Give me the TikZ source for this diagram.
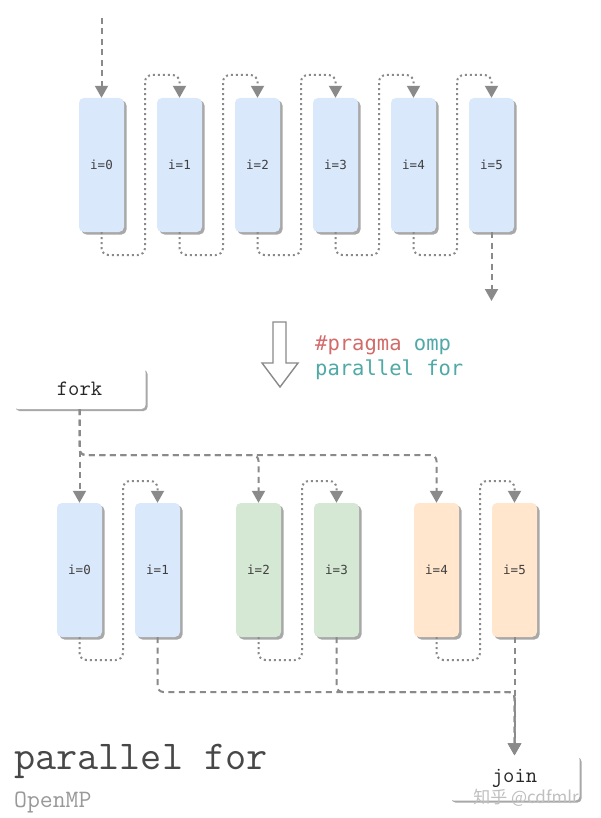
\documentclass[tikz,border=0pt]{standalone}
\usepackage{fontspec}
\usetikzlibrary{arrows.meta,shadows}
\newfontfamily\dvmfont{DejaVu Sans Mono}
\newfontfamily\cjkfont{Noto Sans CJK SC}
\definecolor{lblue}{HTML}{DAE8FC}
\definecolor{lgreen}{HTML}{D5E8D4}
\definecolor{lorange}{HTML}{FFE6CC}
\definecolor{linegray}{HTML}{8A8A8A}
\definecolor{shadowgray}{HTML}{A8A8A8}
\definecolor{pragred}{HTML}{D36B6B}
\definecolor{ompteal}{HTML}{4FA9A6}
\begin{document}
\begin{tikzpicture}[x=1pt,y=-1pt,
  iter/.style={rectangle, rounded corners=5pt, minimum width=45pt, minimum height=134pt,
    inner sep=0pt, draw=none, font=\dvmfont\fontsize{12.5}{14}\selectfont, text=black!75,
    drop shadow={shadow xshift=2.5pt, shadow yshift=-2.5pt, fill=shadowgray, opacity=1}},
  labelbox/.style={rectangle, rounded corners=4pt, fill=white, draw=none, inner sep=0pt,
    font=\ttfamily\fontsize{22}{24}\selectfont, text=black!85,
    drop shadow={shadow xshift=2pt, shadow yshift=-2pt, fill=shadowgray, opacity=1}},
  dashedflow/.style={draw=linegray, line width=2pt, dash pattern=on 6pt off 4.5pt,
    -{Triangle[width=13pt,length=12pt]}, rounded corners=6pt},
  dottedflow/.style={draw=linegray, line width=2pt, dash pattern=on 2pt off 3pt,
    -{Triangle[width=13pt,length=12pt]}, rounded corners=7pt},
]
\useasboundingbox (0,0) rectangle (600,818);
\fill[white] (0,0) rectangle (600,818);

% ---------- top row (sequential) ----------
\foreach \i in {0,...,5}{
  \node[iter, fill=lblue] (t\i) at ({101.5+78*\i},165) {i=\i};
}
\coordinate (tin) at (101.5,18);
\coordinate (tout) at (491.5,301);
\draw[dashedflow] (tin) -- (t0.north);
\foreach \i/\j in {0/1,1/2,2/3,3/4,4/5}{
  \draw[dottedflow] (t\i.south) |- ({145+78*\i},255) -- ({145+78*\i},75) -| (t\j.north);
}
\draw[dashedflow] (t5.south) -- (tout);

% ---------- hollow arrow + pragma ----------
\draw[linegray, line width=1.4pt, fill=white, line join=miter]
  (273,322) -- (286,322) -- (286,363) -- (298,363) -- (280,387) -- (262,363) -- (273,363) -- cycle;
\node[anchor=base west, inner sep=0pt, font=\dvmfont\fontsize{20.5}{24}\selectfont] (prag1)
  at (315,350) {\textcolor{pragred}{\#pragma} \textcolor{ompteal}{omp}};
\node[anchor=base west, inner sep=0pt, font=\dvmfont\fontsize{20.5}{24}\selectfont, text=ompteal] (prag2)
  at (315,375) {parallel for};

% ---------- fork ----------
\node[labelbox, minimum width=132pt, minimum height=41pt] (fork) at (79.5,388.5) {fork};

% ---------- bottom row (parallel) ----------
\node[iter, fill=lblue]   (b0) at (79.5,570) {i=0};
\node[iter, fill=lblue]   (b1) at (157.5,570) {i=1};
\node[iter, fill=lgreen]  (b2) at (258.5,570) {i=2};
\node[iter, fill=lgreen]  (b3) at (336.5,570) {i=3};
\node[iter, fill=lorange] (b4) at (436.5,570) {i=4};
\node[iter, fill=lorange] (b5) at (514.5,570) {i=5};

\coordinate (fk) at (79.5,455);
\draw[dashedflow] (fork.south) -- (b0.north);
\draw[dashedflow] (fork.south) -- (fk) -| (b2.north);
\draw[dashedflow] (fork.south) -- (fk) -| (b4.north);

\draw[dottedflow] (b0.south) |- (123,660) -- (123,481) -| (b1.north);
\draw[dottedflow] (b2.south) |- (302,660) -- (302,481) -| (b3.north);
\draw[dottedflow] (b4.south) |- (480,660) -- (480,481) -| (b5.north);

% ---------- join ----------
\node[labelbox, minimum width=130pt, minimum height=45pt] (join) at (514.5,778) {join};
\coordinate (jn) at (514.5,692);
\draw[dashedflow] (b1.south) |- (jn) -- (join.north);
\draw[dashedflow] (b3.south) |- (jn) -- (join.north);
\draw[dashedflow] (b5.south) -- (join.north);

% ---------- titles ----------
\node[anchor=base west, inner sep=0pt, font=\ttfamily\fontsize{41}{44}\selectfont, text=black!72] (title)
  at (14,769) {parallel for};
\node[anchor=base west, inner sep=0pt, font=\ttfamily\fontsize{25}{28}\selectfont, text=black!40] (subtitle)
  at (14,807) {OpenMP};
\node[anchor=base, inner sep=0pt, font=\cjkfont\fontsize{17}{20}\selectfont, text=black!25] (wm)
  at (526,803) {知乎 @cdfmlr};
\end{tikzpicture}
\end{document}
